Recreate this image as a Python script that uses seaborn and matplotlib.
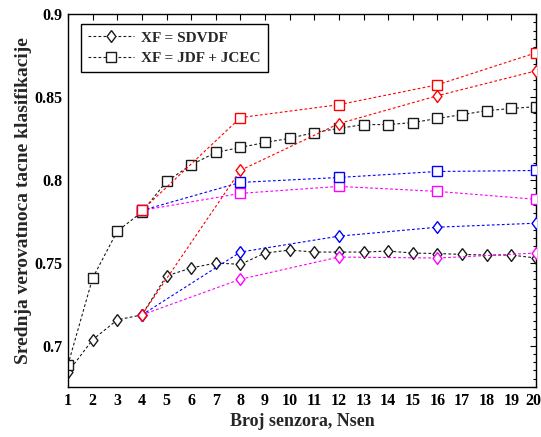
import numpy as np
import pandas as pd
import seaborn as sns
import matplotlib
matplotlib.use("Agg")
import matplotlib.pyplot as plt
import matplotlib.transforms as mtransforms
from matplotlib.ticker import MultipleLocator

# ---------------- data ----------------
n_all = list(range(1, 21))
sdvdf_black = [0.684, 0.7035, 0.7155, 0.7185, 0.742, 0.7468, 0.7498, 0.749, 0.7558, 0.7576,
               0.7564, 0.7564, 0.7564, 0.757, 0.7558, 0.7555, 0.755, 0.7546, 0.7546, 0.7528]
jdf_black = [0.6885, 0.7407, 0.769, 0.7805, 0.799, 0.809, 0.8165, 0.8195, 0.8225, 0.825,
             0.8285, 0.831, 0.8333, 0.8333, 0.8345, 0.837, 0.8393, 0.8417, 0.843, 0.8441]

n_sub = [4, 8, 12, 16, 20]
jdf_red = [0.7815, 0.8375, 0.8453, 0.8573, 0.8766]
sdvdf_red = [0.7185, 0.8057, 0.8339, 0.8507, 0.8657]
jdf_blue = [0.7815, 0.7984, 0.8014, 0.805, 0.8056]
sdvdf_blue = [0.7185, 0.7564, 0.766, 0.7714, 0.7738]
jdf_magenta = [0.7815, 0.7918, 0.796, 0.793, 0.7882]
sdvdf_magenta = [0.7185, 0.740, 0.7534, 0.7528, 0.7558]

legend_labels = ["XF = SDVDF", "XF = JDF + JCEC"]
x_label = "Broj senzora, Nsen"
y_label = "Srednja verovatnoca tacne klasifikacije"
y_ticks = [0.7, 0.75, 0.8, 0.85, 0.9]
y_tick_labels = ["0.7", "0.75", "0.8", "0.85", "0.9"]

# ---------------- style ----------------
sns.set_theme(style="white")
plt.rcParams["font.family"] = ["Liberation Serif", "DejaVu Serif"]
plt.rcParams["font.weight"] = "bold"

fig = plt.figure(figsize=(5.41, 4.37), dpi=100)
ax = fig.add_axes([68 / 541, 1 - 387 / 437, (536 - 68) / 541, (387 - 14) / 437])

diamond = [(0, 1), (0.75, 0), (0, -1), (-0.75, 0), (0, 1)]
dash = (0, (2.5, 2))
lw = 0.8
ms_d = 8.5
ms_s = 7.5


def draw(x, y, color, marker, ms, label=None, z=2):
    sns.lineplot(x=x, y=y, ax=ax, color=color, marker=marker, markersize=ms,
                 markerfacecolor="white", markeredgecolor=color, markeredgewidth=1.0,
                 linewidth=lw, label=label, legend=False, zorder=z)
    ax.lines[-1].set_linestyle(dash)


draw(n_all, sdvdf_black, "#1a1a1a", diamond, ms_d, legend_labels[0])
draw(n_all, jdf_black, "#1a1a1a", "s", ms_s, legend_labels[1])
draw(n_sub, sdvdf_magenta, "#ff00ff", diamond, ms_d, z=3)
draw(n_sub, jdf_magenta, "#ff00ff", "s", ms_s, z=3)
draw(n_sub, sdvdf_blue, "#0000ff", diamond, ms_d, z=3)
draw(n_sub, jdf_blue, "#0000ff", "s", ms_s, z=3)
draw(n_sub, sdvdf_red, "#ff0000", diamond, ms_d, z=4)
draw(n_sub, jdf_red, "#ff0000", "s", ms_s, z=4)

ax.set_xlim(1, 20)
ax.set_ylim(0.675, 0.9)
ax.set_xticks(n_all)
ax.set_xticklabels([str(v) for v in n_all])
ax.set_yticks(y_ticks)
ax.set_yticklabels(y_tick_labels)
ax.yaxis.set_minor_locator(MultipleLocator(0.005))

ax.tick_params(axis="both", which="both", direction="in", top=True, right=True,
               labelsize=11.5, colors="black", width=0.8)
ax.tick_params(axis="both", which="major", length=4.5, pad=4)
ax.tick_params(axis="y", which="minor", length=2.5)
for lab in ax.get_xticklabels() + ax.get_yticklabels():
    lab.set_fontweight("bold")

# nudge the last x tick label so it stays inside the figure
last = ax.get_xticklabels()[-1]
last.set_transform(last.get_transform() + mtransforms.ScaledTranslation(-3 / 100, 0, fig.dpi_scale_trans))

for sp in ax.spines.values():
    sp.set_color("black")
    sp.set_linewidth(1.0)

ax.set_xlabel(x_label, fontsize=13, fontweight="bold", labelpad=3)
ax.set_ylabel(y_label, fontsize=14, fontweight="bold", labelpad=2)

leg = ax.legend(loc="upper left", bbox_to_anchor=(0.028, 0.973), borderaxespad=0,
                fancybox=False, edgecolor="black", framealpha=1,
                prop={"weight": "bold", "size": 11},
                handlelength=3.0, borderpad=0.45, labelspacing=0.45, handletextpad=0.5)
leg.get_frame().set_linewidth(1.0)

fig.savefig("out.png", dpi=100, facecolor="white")
